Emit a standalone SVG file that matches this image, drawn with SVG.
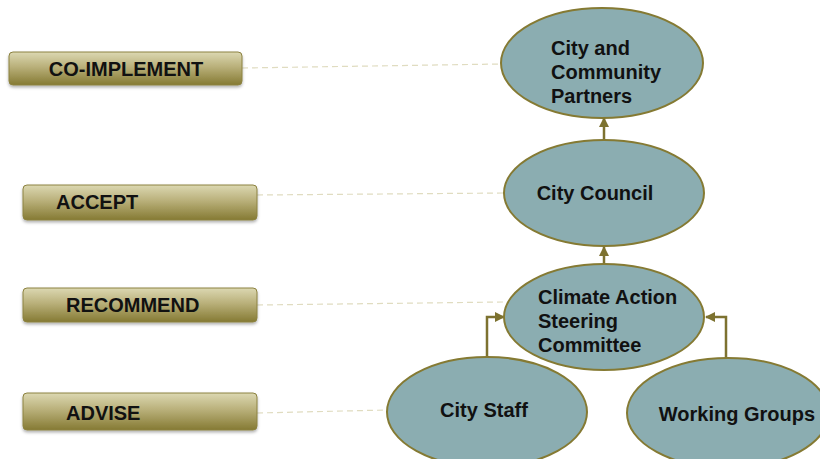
<svg xmlns="http://www.w3.org/2000/svg" width="820" height="459" viewBox="0 0 820 459">
  <defs>
    <linearGradient id="boxFill" x1="0" y1="0" x2="0" y2="1">
      <stop offset="0" stop-color="#dcd8b2"/>
      <stop offset="0.45" stop-color="#b9b07a"/>
      <stop offset="1" stop-color="#857a33"/>
    </linearGradient>
    <filter id="shadow" x="-5%" y="-20%" width="110%" height="150%">
      <feDropShadow dx="0" dy="2" stdDeviation="1.5" flood-color="#000" flood-opacity="0.3"/>
    </filter>
    <marker id="arrow" viewBox="0 0 10 10" refX="9" refY="5" markerWidth="4" markerHeight="4" orient="auto">
      <path d="M0,0 L10,5 L0,10 z" fill="#7d7230"/>
    </marker>
  </defs>
  <style>
    .box { fill: url(#boxFill); stroke: #8c8240; stroke-width: 1; filter: url(#shadow); }
    .boxText { font-family: "Liberation Sans", Arial, sans-serif; font-weight: bold; font-size: 20px; fill: #111; }
    .node { fill: #8badb1; stroke: #857a33; stroke-width: 2; }
    .nodeText { font-family: "Liberation Sans", Arial, sans-serif; font-weight: bold; font-size: 20px; fill: #111; }
    .guide { stroke: #e0dcc0; stroke-width: 1.2; stroke-dasharray: 6 4; fill: none; }
    .link { stroke: #7d7230; stroke-width: 2.5; fill: none; marker-end: url(#arrow); }
  </style>
  <rect width="820" height="459" fill="#ffffff"/>

  <!-- dashed guides from role labels to bodies -->
  <g id="guides">
    <line class="guide" x1="242" y1="68" x2="501" y2="64"/>
    <line class="guide" x1="257" y1="195" x2="505" y2="193"/>
    <line class="guide" x1="257" y1="305" x2="504" y2="302"/>
    <line class="guide" x1="257" y1="413" x2="387" y2="410"/>
  </g>

  <!-- connectors -->
  <g id="connectors">
    <path class="link" d="M604,263 L604,247"/>
    <path class="link" d="M604,141 L604,118"/>
    <path class="link" d="M487,357 L487,317 L504,317"/>
    <path class="link" d="M726,358 L726,317 L706,317"/>
  </g>

  <!-- role labels -->
  <g id="label-coimplement">
    <rect class="box" x="9" y="52" width="233" height="33" rx="4"/>
    <text class="boxText" x="126" y="76" text-anchor="middle">CO-IMPLEMENT</text>
  </g>
  <g id="label-accept">
    <rect class="box" x="23" y="185" width="234" height="35" rx="4"/>
    <text class="boxText" x="56" y="209">ACCEPT</text>
  </g>
  <g id="label-recommend">
    <rect class="box" x="23" y="288" width="234" height="34" rx="4"/>
    <text class="boxText" x="66" y="312">RECOMMEND</text>
  </g>
  <g id="label-advise">
    <rect class="box" x="23" y="393" width="234" height="37" rx="4"/>
    <text class="boxText" x="66" y="420">ADVISE</text>
  </g>

  <!-- bodies -->
  <g id="node-partners">
    <ellipse class="node" cx="602" cy="63" rx="101" ry="55"/>
    <text class="nodeText" x="551" y="55">City and</text>
    <text class="nodeText" x="551" y="79">Community</text>
    <text class="nodeText" x="551" y="103">Partners</text>
  </g>
  <g id="node-council">
    <ellipse class="node" cx="604" cy="193" rx="100" ry="53"/>
    <text class="nodeText" x="595" y="200" text-anchor="middle">City Council</text>
  </g>
  <g id="node-steering">
    <ellipse class="node" cx="604" cy="317" rx="100" ry="53"/>
    <text class="nodeText" x="538" y="304">Climate Action</text>
    <text class="nodeText" x="538" y="328">Steering</text>
    <text class="nodeText" x="538" y="352">Committee</text>
  </g>
  <g id="node-staff">
    <ellipse class="node" cx="487" cy="412" rx="100" ry="55"/>
    <text class="nodeText" x="484" y="417" text-anchor="middle">City Staff</text>
  </g>
  <g id="node-groups">
    <ellipse class="node" cx="728" cy="413" rx="101" ry="55"/>
    <text class="nodeText" x="737" y="421" text-anchor="middle">Working Groups</text>
  </g>
</svg>
